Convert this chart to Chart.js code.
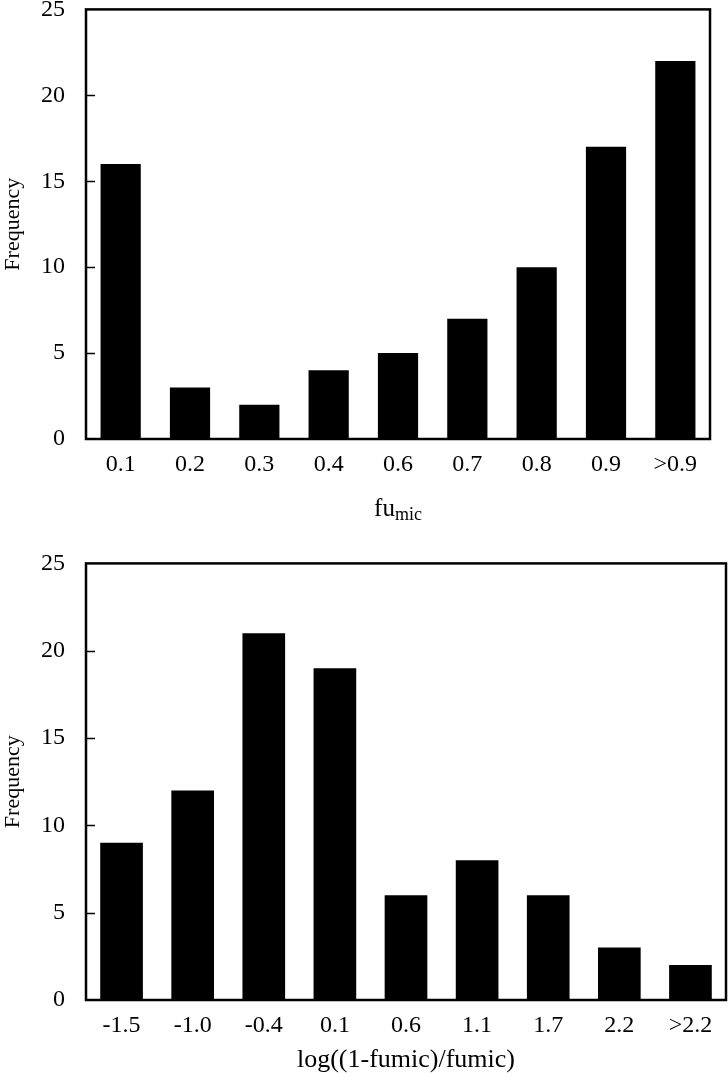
<!DOCTYPE html>
<html>
<head>
<meta charset="utf-8">
<script src="https://cdn.jsdelivr.net/npm/chart.js@4/dist/chart.umd.min.js"></script>
<style>
  body { margin: 0; background: #fff; }
  .page { position: relative; width: 728px; height: 1078px; overflow: hidden; }
  .box { position: absolute; left: 0; width: 728px; }
</style>
</head>
<body>
<div class="page">
  <div class="box" style="top:-26px;height:556px"><canvas id="top"></canvas></div>
  <div class="box" style="top:528px;height:550px"><canvas id="bottom"></canvas></div>
</div>
<script>
// top histogram: fu_mic bins
const fuLabels = ["0.1", "0.2", "0.3", "0.4", "0.6", "0.7", "0.8", "0.9", ">0.9"];
const fuCounts = [16, 3, 2, 4, 5, 7, 10, 17, 22];

// bottom histogram: log((1-fumic)/fumic) bins
const logLabels = ["-1.5", "-1.0", "-0.4", "0.1", "0.6", "1.1", "1.7", "2.2", ">2.2"];
const logCounts = [9, 12, 21, 19, 6, 8, 6, 3, 2];

const yTicks = [0, 5, 10, 15, 20, 25];

const serif = "'Liberation Serif', 'DejaVu Serif', serif";

// box around the plot + short inward ticks on the left axis
const framePlugin = {
  id: "frame",
  afterDatasetsDraw(chart) {
    const { ctx, chartArea: a } = chart;
    const y = chart.scales.y;
    ctx.save();
    ctx.strokeStyle = "#000";
    ctx.lineWidth = 1.5;
    yTicks.slice(1, -1).forEach(v => {
      const py = Math.round(y.getPixelForValue(v)) + 0.5;
      ctx.beginPath();
      ctx.moveTo(a.left, py);
      ctx.lineTo(a.left + 9, py);
      ctx.stroke();
    });
    ctx.lineWidth = 2.5;
    ctx.strokeRect(a.left, a.top, a.right - a.left, a.bottom - a.top);
    ctx.restore();
  }
};

// x title with subscript for the top chart
const fuTitlePlugin = {
  id: "fuTitle",
  afterDraw(chart) {
    const { ctx, chartArea: a } = chart;
    const cx = (a.left + a.right) / 2;
    const yBase = a.bottom + 77;
    ctx.save();
    ctx.fillStyle = "#000";
    ctx.textBaseline = "alphabetic";
    ctx.font = "25px " + serif;
    const w1 = ctx.measureText("fu").width;
    ctx.font = "18px " + serif;
    const w2 = ctx.measureText("mic").width;
    const x0 = cx - (w1 + w2) / 2;
    ctx.font = "25px " + serif;
    ctx.fillText("fu", x0, yBase);
    ctx.font = "18px " + serif;
    ctx.fillText("mic", x0 + w1, yBase + 4);
    ctx.restore();
  }
};

function makeChart(id, labels, counts, opts) {
  const plugins = [framePlugin];
  if (opts.extra) plugins.push(opts.extra);
  return new Chart(document.getElementById(id), {
    type: "bar",
    data: {
      labels: labels,
      datasets: [{
        data: counts,
        backgroundColor: "#000",
        borderWidth: 0,
        categoryPercentage: 1,
        barPercentage: opts.barPct
      }]
    },
    options: {
      responsive: true,
      maintainAspectRatio: false,
      animation: false,
      layout: { padding: { top: 0, right: opts.padRight, left: 0, bottom: 0 } },
      plugins: { legend: { display: false }, tooltip: { enabled: false } },
      scales: {
        x: {
          grid: { display: false, drawTicks: false },
          border: { display: false },
          ticks: { color: "#000", padding: 11, maxRotation: 0, font: { family: serif, size: 24 } },
          title: {
            display: !!opts.xTitle,
            text: opts.xTitle || "",
            color: "#000",
            padding: { top: 4, bottom: 2 },
            font: { family: serif, size: 26 }
          },
          afterFit(s) { s.height = opts.xHeight; }
        },
        y: {
          min: 0,
          max: 25,
          grid: { display: false, drawTicks: false },
          border: { display: false },
          ticks: { color: "#000", stepSize: 5, padding: 21, font: { family: serif, size: 24 } },
          title: {
            display: true,
            text: "Frequency",
            color: "#000",
            padding: 0,
            font: { family: serif, size: 22 }
          },
          afterFit(s) { s.width = 86; }
        }
      }
    },
    plugins: plugins
  });
}

makeChart("top", fuLabels, fuCounts, {
  barPct: 0.58, padRight: 18, xHeight: 91, extra: fuTitlePlugin
});

makeChart("bottom", logLabels, logCounts, {
  barPct: 0.6, padRight: 2, xHeight: 78, xTitle: "log((1-fumic)/fumic)"
});
</script>
</body>
</html>
